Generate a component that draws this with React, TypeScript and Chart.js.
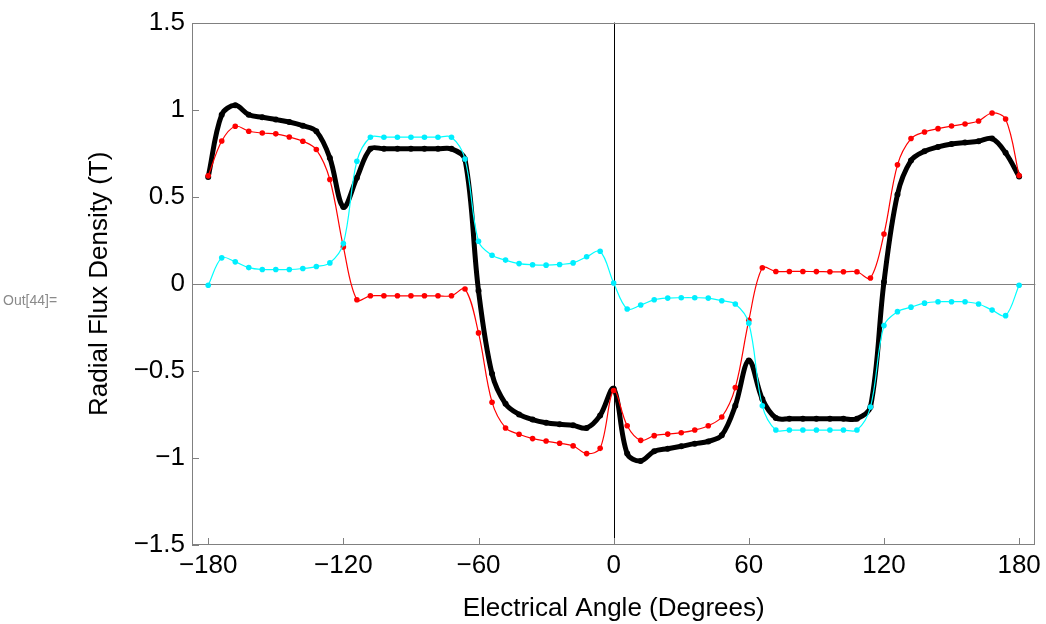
import React, { useEffect, useRef } from "react";
import { Chart, registerables } from "chart.js";

Chart.register(...registerables);

const angles = [
  -180, -174, -168, -162, -156, -150, -144, -138, -132, -126, -120, -114, -108, -102, -96, -90,
  -84, -78, -72, -66, -60, -54, -48, -42, -36, -30, -24, -18, -12, -6, 0, 6, 12, 18, 24, 30, 36,
  42, 48, 54, 60, 66, 72, 78, 84, 90, 96, 102, 108, 114, 120, 126, 132, 138, 144, 150, 156, 162,
  168, 174, 180,
];

const redValues = [
  0.62, 0.82, 0.905, 0.876, 0.866, 0.861, 0.843, 0.819, 0.771, 0.599, 0.212, -0.092, -0.069,
  -0.069, -0.069, -0.069, -0.069, -0.069, -0.069, -0.03, -0.282, -0.68, -0.828, -0.864, -0.889,
  -0.903, -0.916, -0.931, -0.975, -0.945, -0.613, -0.815, -0.899, -0.872, -0.863, -0.855, -0.84,
  -0.815, -0.765, -0.596, -0.21, 0.092, 0.071, 0.071, 0.071, 0.07, 0.069, 0.069, 0.069, 0.033,
  0.286, 0.683, 0.834, 0.872, 0.891, 0.906, 0.918, 0.935, 0.981, 0.946, 0.622,
];

const cyanValues = [
  -0.008, 0.149, 0.126, 0.093, 0.082, 0.082, 0.082, 0.088, 0.099, 0.12, 0.231, 0.704, 0.842,
  0.842, 0.842, 0.842, 0.842, 0.842, 0.842, 0.717, 0.244, 0.164, 0.136, 0.116, 0.109, 0.107,
  0.111, 0.12, 0.155, 0.187, 0.005, -0.145, -0.122, -0.092, -0.082, -0.08, -0.08, -0.082, -0.097,
  -0.116, -0.226, -0.701, -0.84, -0.84, -0.84, -0.84, -0.84, -0.84, -0.84, -0.708, -0.24, -0.16,
  -0.134, -0.111, -0.103, -0.103, -0.103, -0.116, -0.151, -0.183, -0.008,
];

const blackValues = [
  0.614, 0.971, 1.025, 0.971, 0.956, 0.943, 0.929, 0.908, 0.876, 0.723, 0.441, 0.609, 0.775,
  0.775, 0.775, 0.775, 0.775, 0.775, 0.775, 0.714, -0.04, -0.517, -0.689, -0.75, -0.78, -0.798,
  -0.807, -0.813, -0.828, -0.756, -0.603, -0.975, -1.017, -0.962, -0.947, -0.933, -0.918, -0.905,
  -0.87, -0.7, -0.44, -0.662, -0.77, -0.775, -0.775, -0.775, -0.775, -0.775, -0.775, -0.708, 0.01,
  0.513, 0.708, 0.761, 0.786, 0.803, 0.811, 0.819, 0.834, 0.752, 0.616,
];

const xTickValues = [-180, -120, -60, 0, 60, 120, 180];
const yTickValues = [-1.5, -1, -0.5, 0, 0.5, 1, 1.5];

const xTitle = "Electrical Angle (Degrees)";
const yTitle = "Radial Flux Density (T)";
const outLabel = "Out[44]=";

const FONT = "'Liberation Sans', Arial, Helvetica, sans-serif";

const fmt = (v: number) => (v < 0 ? "\u2212" + String(Math.abs(v)) : String(v));

const toPoints = (ys: number[]) => angles.map((a, i) => ({ x: a, y: ys[i] }));

const framePlugin = {
  id: "mmaFrame",
  beforeDatasetsDraw(chart: any) {
    const { ctx, chartArea, scales } = chart;
    const { left, right, top, bottom } = chartArea;
    ctx.save();
    ctx.lineWidth = 1;
    const y0 = Math.round(scales.y.getPixelForValue(0)) + 0.5;
    ctx.strokeStyle = "#808080";
    ctx.beginPath();
    ctx.moveTo(left, y0);
    ctx.lineTo(right, y0);
    ctx.stroke();
    const x0 = Math.round(scales.x.getPixelForValue(0)) + 0.5;
    ctx.strokeStyle = "#000000";
    ctx.beginPath();
    ctx.moveTo(x0, top);
    ctx.lineTo(x0, bottom);
    ctx.stroke();
    ctx.restore();
  },
  afterDraw(chart: any) {
    const { ctx, chartArea, scales } = chart;
    const { left, right, top, bottom } = chartArea;
    ctx.save();
    ctx.strokeStyle = "#808080";
    ctx.lineWidth = 1;
    ctx.strokeRect(Math.round(left) + 0.5, Math.round(top) + 0.5, Math.round(right - left) - 1, Math.round(bottom - top) - 1);
    ctx.beginPath();
    xTickValues.forEach((v) => {
      const px = Math.round(scales.x.getPixelForValue(v)) + 0.5;
      ctx.moveTo(px, bottom);
      ctx.lineTo(px, bottom - 7);
    });
    yTickValues.forEach((v) => {
      const py = Math.round(scales.y.getPixelForValue(v)) + 0.5;
      ctx.moveTo(left, py);
      ctx.lineTo(left + 7, py);
    });
    ctx.stroke();
    ctx.restore();
  },
};

export default function App() {
  const canvasRef = useRef<HTMLCanvasElement | null>(null);

  useEffect(() => {
    if (!canvasRef.current) return;
    const chart = new Chart(canvasRef.current, {
      type: "line",
      data: {
        datasets: [
          {
            label: "cyan",
            data: toPoints(cyanValues),
            borderColor: "#00FFFF",
            backgroundColor: "#00EEFF",
            borderWidth: 1.2,
            pointRadius: 2.8,
            pointBorderWidth: 0,
            tension: 0.35,
          },
          {
            label: "red",
            data: toPoints(redValues),
            borderColor: "#FF0000",
            backgroundColor: "#FF0000",
            borderWidth: 1.2,
            pointRadius: 2.8,
            pointBorderWidth: 0,
            tension: 0.35,
          },
          {
            label: "black",
            data: toPoints(blackValues),
            borderColor: "#000000",
            backgroundColor: "#000000",
            borderWidth: 5,
            pointRadius: 3,
            pointBorderWidth: 0,
            tension: 0.35,
          },
        ],
      },
      options: {
        animation: false,
        responsive: false,
        maintainAspectRatio: false,
        devicePixelRatio: 1,
        layout: { padding: { top: 21, right: 10, left: 0, bottom: 0 } },
        plugins: { legend: { display: false }, tooltip: { enabled: false } },
        scales: {
          x: {
            type: "linear",
            min: -187.2,
            max: 187.2,
            afterBuildTicks: (scale: any) => {
              scale.ticks = xTickValues.map((v) => ({ value: v }));
            },
            afterFit: (scale: any) => {
              scale.height = 79;
            },
            grid: { display: false, drawTicks: false },
            border: { display: false },
            ticks: {
              callback: (v: any) => fmt(Number(v)),
              color: "#000000",
              font: { family: FONT, size: 26 },
              padding: 5,
              maxRotation: 0,
              autoSkip: false,
            },
            title: {
              display: true,
              text: xTitle,
              color: "#000000",
              font: { family: FONT, size: 26 },
              padding: { top: 0, bottom: 0 },
            },
          },
          y: {
            type: "linear",
            min: -1.5,
            max: 1.5,
            afterBuildTicks: (scale: any) => {
              scale.ticks = yTickValues.map((v) => ({ value: v }));
            },
            afterFit: (scale: any) => {
              scale.width = 192;
            },
            grid: { display: false, drawTicks: false },
            border: { display: false },
            ticks: {
              callback: (v: any) => fmt(Number(v)),
              color: "#000000",
              font: { family: FONT, size: 26 },
              padding: 7,
              autoSkip: false,
            },
            title: {
              display: true,
              text: yTitle,
              color: "#000000",
              font: { family: FONT, size: 26 },
              padding: { top: 84, bottom: 0 },
            },
          },
        },
      },
      plugins: [framePlugin],
    });
    return () => chart.destroy();
  }, []);

  return (
    <div style={{ position: "fixed", left: 0, top: 0, width: 1046, height: 624, background: "#ffffff" }}>
      <canvas ref={canvasRef} width={1046} height={624} style={{ display: "block" }} />
      <div
        style={{
          position: "absolute",
          left: 3,
          top: 292,
          fontFamily: FONT,
          fontSize: 14,
          color: "#8a8a8a",
          lineHeight: "16px",
          whiteSpace: "nowrap",
        }}
      >
        {outLabel}
      </div>
    </div>
  );
}
